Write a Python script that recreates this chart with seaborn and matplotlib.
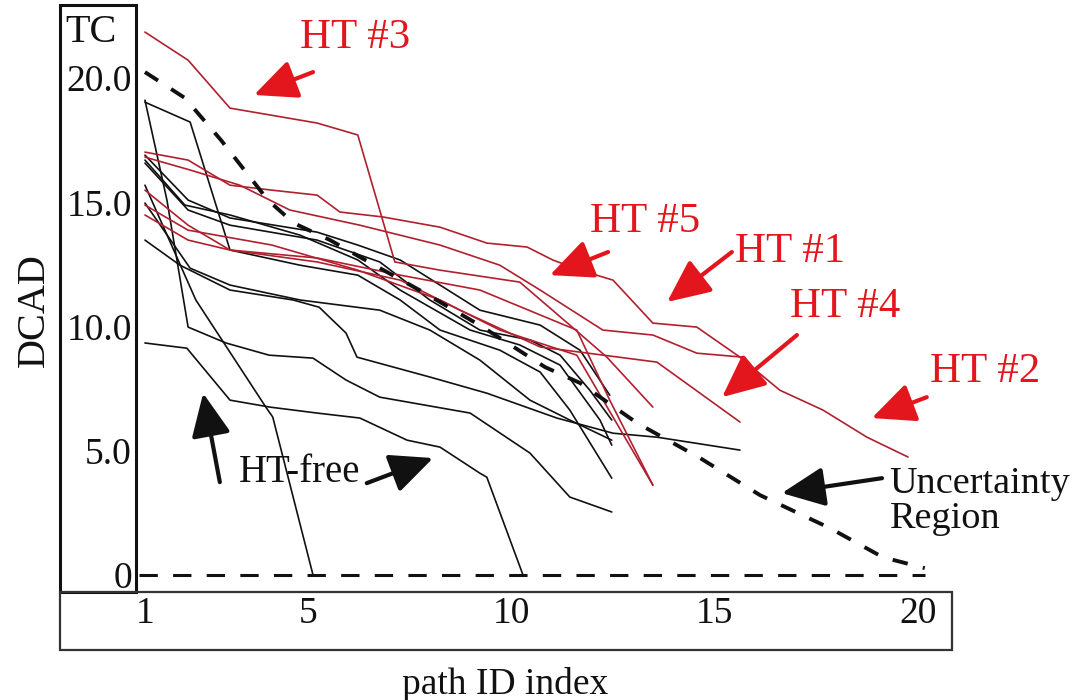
import matplotlib
matplotlib.use("Agg")
import matplotlib.pyplot as plt
from matplotlib.patches import Rectangle
import pandas as pd
import seaborn as sns

# DCAD curves of the Trojan-infected chips (path ID index, DCAD)
ht3_idx = [1.00, 2.06, 3.09, 5.23, 6.23, 7.14, 8.25, 10.21, 11.44, 12.35, 13.48]
ht3_dcad = [21.85, 20.72, 18.79, 18.19, 17.71, 12.60, 12.27, 11.79, 10.06, 8.77, 6.76]

ht2_idx = [1.00, 2.06, 3.09, 4.12, 5.23, 5.79, 6.85, 8.25, 9.40, 10.39, 11.02, 11.69,
           12.50, 13.48, 14.56, 15.62, 16.60, 17.66, 18.74, 19.75]
ht2_dcad = [17.02, 16.70, 15.69, 15.49, 15.29, 14.61, 14.41, 14.00, 13.36, 13.20, 12.68, 12.27,
            11.87, 10.14, 9.98, 8.77, 7.44, 6.64, 5.55, 4.75]

ht1_idx = [1.00, 2.11, 3.33, 4.56, 6.28, 8.25, 9.72, 10.71, 12.25, 13.48, 14.56, 15.69, 16.11]
ht1_dcad = [16.82, 16.30, 15.69, 14.69, 14.08, 13.28, 12.47, 11.47, 9.86, 9.66, 8.93, 8.77, 8.05]

ht4_idx = [1.00, 2.06, 3.09, 5.23, 7.27, 8.74, 10.71, 13.58, 15.62]
ht4_dcad = [14.49, 13.48, 13.08, 12.60, 11.87, 10.66, 9.18, 8.57, 6.16]

ht5_idx = [1.00, 2.06, 4.12, 6.23, 8.25, 9.72, 11.61, 13.48]
ht5_dcad = [14.89, 13.88, 13.28, 12.27, 11.07, 9.86, 8.85, 3.62]

ht6_idx = [1.00, 2.06, 3.09, 5.23, 7.27, 9.23, 11.61, 12.42, 13.48]
ht6_dcad = [15.49, 14.08, 13.08, 12.76, 12.07, 11.47, 9.86, 7.04, 3.62]

# DCAD curves of the HT-free chips
free1_idx = [1.00, 2.11, 3.09, 4.81, 6.23, 7.27, 8.25, 9.72, 10.71, 11.44, 12.47]
free1_dcad = [19.03, 18.23, 13.08, 12.47, 12.07, 11.07, 9.86, 9.05, 8.17, 6.64, 3.90]

free2_idx = [1.00, 1.54, 2.06, 2.99, 4.05, 5.13, 5.94, 6.77, 8.99, 10.46, 11.44, 12.47]
free2_dcad = [19.11, 15.09, 9.98, 9.34, 8.85, 8.73, 7.85, 7.16, 6.52, 4.91, 3.14, 2.54]

free3_idx = [1.00, 2.25, 3.97, 4.14, 5.13]
free3_dcad = [15.69, 11.07, 6.76, 6.36, 0.00]

free4_idx = [1.00, 2.03, 3.09, 4.07, 5.23, 6.28, 7.44, 8.25, 9.23, 9.40, 10.29]
free4_dcad = [9.34, 9.13, 7.04, 6.76, 6.52, 6.32, 5.43, 5.15, 4.10, 3.94, 0.00]

free5_idx = [1.00, 1.86, 3.09, 4.64, 5.28, 5.94, 6.21, 8.00, 9.40, 11.12, 12.50, 13.58, 15.62]
free5_dcad = [13.48, 12.47, 11.47, 11.07, 10.78, 9.74, 8.77, 7.97, 7.32, 6.32, 5.71, 5.55, 5.03]

free6_idx = [1.00, 2.11, 3.09, 4.81, 6.77, 8.00, 9.23, 10.46, 11.44, 12.47]
free6_dcad = [14.97, 12.35, 11.67, 11.07, 10.66, 9.86, 8.65, 7.04, 6.24, 5.43]

free7_idx = [1.00, 1.98, 3.09, 4.81, 6.23, 7.27, 8.99, 10.21, 11.20, 12.18, 12.47]
free7_dcad = [16.70, 14.89, 14.49, 13.68, 12.68, 11.47, 9.86, 9.26, 8.45, 6.24, 5.23]

free8_idx = [1.00, 2.06, 3.09, 5.23, 6.77, 8.00, 9.23, 10.46, 11.20, 11.93, 12.47]
free8_dcad = [16.58, 14.69, 14.08, 13.48, 12.60, 11.07, 9.86, 9.46, 8.85, 7.44, 6.24]

free9_idx = [1.00, 2.06, 3.09, 5.23, 6.23, 7.27, 9.23, 10.71, 11.69, 12.42]
free9_dcad = [16.90, 15.09, 14.37, 13.80, 13.28, 12.68, 10.66, 10.06, 9.05, 7.24]

# upper bound of the uncertainty region and the zero line
bound_idx = [1.00, 1.98, 2.87, 4.02, 4.66, 5.55, 6.28, 7.83, 9.30, 10.83, 11.69, 13.09,
             14.64, 16.11, 17.83, 19.13, 20.16]
bound_dcad = [20.24, 19.20, 17.50, 15.09, 14.16, 13.48, 12.80, 11.39, 9.98, 8.37, 7.73, 6.12,
              4.71, 3.22, 1.89, 0.72, 0.28]
zero_idx = [0.85, 20.16]
zero_dcad = [0.0, 0.0]

x_ticks = [1, 5, 10, 15, 20]
y_ticks = [0, 5, 10, 15, 20]
y_tick_labels = ["0", "5.0", "10.0", "15.0", "20.0"]

RED_LINE = "#b0202e"
RED = "#e3161d"
BLACK = "#111111"

ht_curves = [(ht3_idx, ht3_dcad), (ht2_idx, ht2_dcad), (ht1_idx, ht1_dcad),
             (ht4_idx, ht4_dcad), (ht5_idx, ht5_dcad), (ht6_idx, ht6_dcad)]
free_curves = [(free1_idx, free1_dcad), (free2_idx, free2_dcad), (free3_idx, free3_dcad),
               (free4_idx, free4_dcad), (free5_idx, free5_dcad), (free6_idx, free6_dcad),
               (free7_idx, free7_dcad), (free8_idx, free8_dcad), (free9_idx, free9_dcad)]

rows = []
for n, (xs, ys) in enumerate(free_curves):
    rows += [{"path": f"free{n}", "group": "free", "idx": x, "dcad": y} for x, y in zip(xs, ys)]
for n, (xs, ys) in enumerate(ht_curves):
    rows += [{"path": f"ht{n}", "group": "ht", "idx": x, "dcad": y} for x, y in zip(xs, ys)]
df = pd.DataFrame(rows)

sns.set_theme(style="white")
plt.rcParams["font.family"] = ["Liberation Serif", "DejaVu Serif"]

fig = plt.figure(figsize=(10.89, 7.0), dpi=100)
ax = fig.add_axes([136 / 1089, 108 / 700, 816 / 1089, 587 / 700])

sns.lineplot(data=df, x="idx", y="dcad", hue="group", units="path", estimator=None,
             sort=False, palette={"free": BLACK, "ht": RED_LINE}, linewidth=1.2,
             legend=False, ax=ax)
sns.lineplot(x=bound_idx, y=bound_dcad, sort=False, color=BLACK, linewidth=2.8,
             linestyle=(0, (4, 4)), ax=ax)
sns.lineplot(x=zero_idx, y=zero_dcad, sort=False, color=BLACK, linewidth=2.2,
             linestyle=(0, (6, 5)), ax=ax)

ax.set_xlim(0.78, 20.83)
ax.set_ylim(-0.68, 22.94)
ax.set_xticks(x_ticks)
ax.set_xticklabels([str(t) for t in x_ticks])
ax.set_yticks(y_ticks)
ax.set_yticklabels(y_tick_labels)
ax.tick_params(axis="both", length=0, labelsize=27, colors=BLACK)
ax.tick_params(axis="x", pad=3)
ax.tick_params(axis="y", pad=3)
for s in ax.spines.values():
    s.set_visible(False)
ax.patch.set_alpha(0)

ax.set_xlabel("path ID index", fontsize=27, color=BLACK)
ax.xaxis.set_label_coords(0.452, -0.128)
ax.set_ylabel("DCAD", fontsize=29, color=BLACK)
ax.yaxis.set_label_coords(-0.102, 0.48)

# boxes around the tick label areas
fig.add_artist(Rectangle((60 / 1089, 108 / 700), 76 / 1089, 587 / 700, transform=fig.transFigure,
                         fill=False, edgecolor=BLACK, linewidth=2.2))
fig.add_artist(Rectangle((60 / 1089, 50 / 700), 892 / 1089, 58 / 700, transform=fig.transFigure,
                         fill=False, edgecolor="#333333", linewidth=1.6))
fig.text(91 / 1089, 1 - 33 / 700, "TC", fontsize=29, ha="center", va="center", color=BLACK)

# HT labels with arrows
red_arrow = dict(arrowstyle="-|>,head_length=1.2,head_width=0.55", color=RED, lw=3,
                 mutation_scale=22, shrinkA=0, shrinkB=0)
black_arrow = dict(arrowstyle="-|>,head_length=1.2,head_width=0.55", color=BLACK, lw=3,
                   mutation_scale=22, shrinkA=0, shrinkB=0)

ht_labels = [("HT #3", 6.16, 21.61, (3.68, 19.32), (5.13, 20.24)),
             ("HT #5", 13.29, 14.21, (10.95, 12.07), (12.38, 13.0)),
             ("HT #1", 16.85, 13.0, (13.83, 10.99), (15.42, 13.0)),
             ("HT #4", 18.2, 10.78, (15.18, 7.16), (17.02, 9.66)),
             ("HT #2", 21.64, 8.17, (18.86, 6.32), (20.21, 7.16))]
for label, tx, ty, tip, tail in ht_labels:
    ax.annotate("", xy=tip, xytext=tail, arrowprops=red_arrow, annotation_clip=False)
    ax.text(tx, ty, label, fontsize=31, color=RED, ha="center", va="center", clip_on=False)

ax.annotate("", xy=(16.65, 3.30), xytext=(19.11, 3.90), arrowprops=black_arrow,
            annotation_clip=False)
ax.text(19.3, 2.98, "Uncertainty\nRegion", fontsize=27.5, color=BLACK, ha="left",
        va="center", linespacing=1.0, clip_on=False)

ax.annotate("", xy=(2.43, 7.32), xytext=(2.84, 3.74), arrowprops=black_arrow,
            annotation_clip=False)
ax.annotate("", xy=(8.08, 4.71), xytext=(6.45, 3.70), arrowprops=black_arrow,
            annotation_clip=False)
ax.text(4.81, 4.14, "HT-free", fontsize=28, color=BLACK, ha="center", va="center")

fig.savefig("out.png", dpi=100)
